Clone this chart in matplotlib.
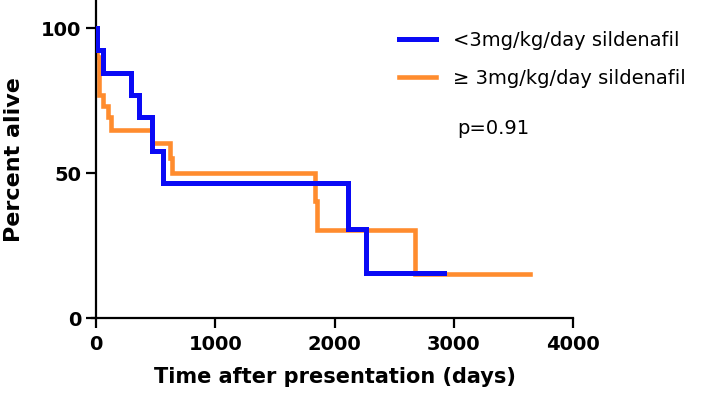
import matplotlib
matplotlib.use("Agg")
import matplotlib.pyplot as plt
from matplotlib.lines import Line2D

# Data (Kaplan-Meier step curves)
low_days = [0, 5, 55, 290, 360, 472, 565, 2115, 2265, 2920]
low_surv = [100, 92.3, 84.6, 76.9, 69.2, 57.7, 46.5, 30.8, 15.4, 15.4]

high_days = [0, 10, 22, 55, 100, 125, 470, 620, 635, 1835, 1855, 2675, 3640]
high_surv = [100, 90, 76.9, 73.2, 69.2, 64.8, 60.2, 55.3, 50.0, 40.5, 30.3, 15.2, 15.2]

x_ticks = [0, 1000, 2000, 3000, 4000]
y_ticks = [0, 50, 100]
labels = ["<3mg/kg/day sildenafil", "\u2265 3mg/kg/day sildenafil"]
p_text = "p=0.91"

blue = "#0A0AF5"
orange = "#FF8C2E"

W, H = 709, 400
fig = plt.figure(figsize=(W / 100, H / 100), dpi=100)
left, right, bottom = 96, 573, 318
ylim_top = 109.6
ax = fig.add_axes([left / W, (H - bottom) / H, (right - left) / W, (bottom - 0.3) / H])

ax.step(high_days, high_surv, where="post", color=orange, lw=3.3, solid_joinstyle="miter", zorder=2)
ax.step(low_days, low_surv, where="post", color=blue, lw=3.6, solid_joinstyle="miter", zorder=3)

ax.set_xlim(0, 4000)
ax.set_ylim(0, ylim_top)
ax.spines["top"].set_visible(False)
ax.spines["right"].set_visible(False)
for s in ("left", "bottom"):
    ax.spines[s].set_linewidth(1.6)
ax.spines["bottom"].set_bounds(-30, 4000)
ax.set_xticks(x_ticks)
ax.set_yticks(y_ticks)
ax.tick_params(axis="both", direction="out", length=7.5, width=1.6, labelsize=14, pad=3)
ax.tick_params(axis="x", pad=5)
for lab in ax.get_xticklabels() + ax.get_yticklabels():
    lab.set_fontweight("bold")
ax.set_xlabel("Time after presentation (days)", fontsize=15, fontweight="bold", labelpad=9)
ax.set_ylabel("Percent alive", fontsize=16, fontweight="bold", labelpad=12)

handles = [Line2D([], [], color=blue, lw=3.6), Line2D([], [], color=orange, lw=3.3)]
fig.legend(handles, labels, loc="upper left", bbox_to_anchor=(399 / W, 1 - 31 / H),
           frameon=False, fontsize=14, handlelength=1.9, handletextpad=0.87,
           labelspacing=0.98, borderaxespad=0, borderpad=0)
fig.text(457 / W, 1 - 128 / H, p_text, fontsize=14, va="center", ha="left")

fig.savefig("out.png", dpi=100)
